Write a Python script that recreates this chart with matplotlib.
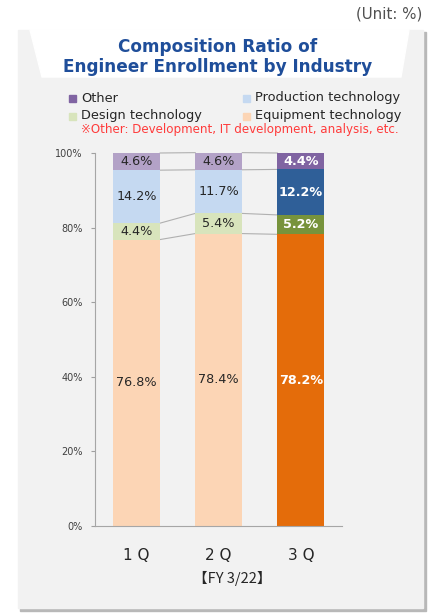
import numpy as np
import matplotlib.pyplot as plt
from matplotlib.patches import Polygon, Rectangle

plt.rcParams['font.family'] = ['DejaVu Sans', 'Noto Sans CJK JP']

quarters = ['1 Q', '2 Q', '3 Q']
series = ['Equipment technology', 'Design technology', 'Production technology', 'Other']
equipment = [76.8, 78.4, 78.2]
design = [4.4, 5.4, 5.2]
production = [14.2, 11.7, 12.2]
other = [4.6, 4.6, 4.4]

light = ['#fcd5b5', '#d8e4bc', '#c5d9f1', '#b3a2c7']
dark = ['#e46c0a', '#77933c', '#2f5f98', '#8064a2']

W, H = 436, 613
fig = plt.figure(figsize=(W / 100, H / 100), dpi=100)
fig.patch.set_facecolor('white')


def fx(px):
    return px / W


def fy(py):
    return 1 - py / H


# panel background with a shadow and the white title tab
fig.patches.append(Rectangle((fx(20), fy(611)), fx(406), fy(32) - fy(611),
                             transform=fig.transFigure, color='#b8b8b8', zorder=-3))
fig.patches.append(Rectangle((fx(18), fy(608)), fx(405), fy(30) - fy(608),
                             transform=fig.transFigure, color='#f2f2f2', zorder=-2))
tab = [(fx(30), fy(30)), (fx(409), fy(30)), (fx(401), fy(77)), (fx(42), fy(77))]
fig.patches.append(Polygon(tab, closed=True, transform=fig.transFigure,
                           color='white', zorder=-1))

ax = fig.add_axes([fx(95), fy(526), fx(342) - fx(95), fy(153) - fy(526)])
ax.set_facecolor('none')
ax.set_zorder(1)

x = np.arange(len(quarters))
width = 0.573
data = [equipment, design, production, other]
bottom = np.zeros(len(quarters))
for k, vals in enumerate(data):
    vals = np.array(vals)
    colors = [light[k], light[k], dark[k]]
    ax.bar(x, vals, width, bottom=bottom, color=colors, zorder=2)
    for i, v in enumerate(vals):
        tc = 'white' if i == 2 else '#262626'
        ax.text(x[i], bottom[i] + v / 2, f'{v:.1f}%', ha='center', va='center',
                fontsize=9.2, color=tc, fontweight='bold' if i == 2 else 'normal',
                zorder=3)
    bottom = bottom + vals
    # series lines joining segment tops of neighbouring bars
    for i in range(len(quarters) - 1):
        ax.plot([x[i] + width / 2, x[i + 1] - width / 2], [bottom[i], bottom[i + 1]],
                color='#b0b0b0', lw=0.8, zorder=1, clip_on=False)

ax.set_xlim(-0.506, 2.5)
ax.set_ylim(0, 100)
ax.set_yticks([0, 20, 40, 60, 80, 100])
ax.set_yticklabels([f'{t}%' for t in [0, 20, 40, 60, 80, 100]], fontsize=7, color='#404040')
ax.set_xticks(x)
ax.set_xticklabels(quarters, fontsize=11, color='#262626')
ax.tick_params(axis='x', length=0, pad=16)
ax.tick_params(axis='y', length=3, color='#a0a0a0', pad=6)
for s in ['top', 'right']:
    ax.spines[s].set_visible(False)
ax.spines['left'].set_color('#a6a6a6')
ax.spines['bottom'].set_color('#a6a6a6')

fig.text(fx(232), fy(578), '\u3010FY 3/22\u3011', ha='center', va='center',
         fontsize=10.5, color='#262626', family=['Noto Sans CJK JP', 'DejaVu Sans'])

fig.text(fx(422), fy(14), '(Unit: %)', ha='right', va='center', fontsize=10.8,
         color='#505050')
fig.text(fx(218), fy(57), 'Composition Ratio of\nEngineer Enrollment by Industry',
         ha='center', va='center', fontsize=12.2, fontweight='bold',
         color='#1f4e9a', linespacing=1.15)

# legend
legend_items = [('Other', '#8064a2', 69, 98), ('Production technology', light[2], 243, 98),
                ('Design technology', light[1], 69, 116), ('Equipment technology', light[0], 243, 116)]
for label, col, px, py in legend_items:
    fig.patches.append(Rectangle((fx(px), fy(py + 3.5)), fx(7), fy(py - 3.5) - fy(py + 3.5),
                                 transform=fig.transFigure, color=col))
    fig.text(fx(px + 12), fy(py), label, ha='left', va='center', fontsize=9.3,
             color='#262626')
fig.text(fx(81), fy(130), '\u203bOther: Development, IT development, analysis, etc.',
         ha='left', va='center', fontsize=8.6, color='#ff3b3b')

fig.savefig('out.png', dpi=100, facecolor=fig.get_facecolor())
